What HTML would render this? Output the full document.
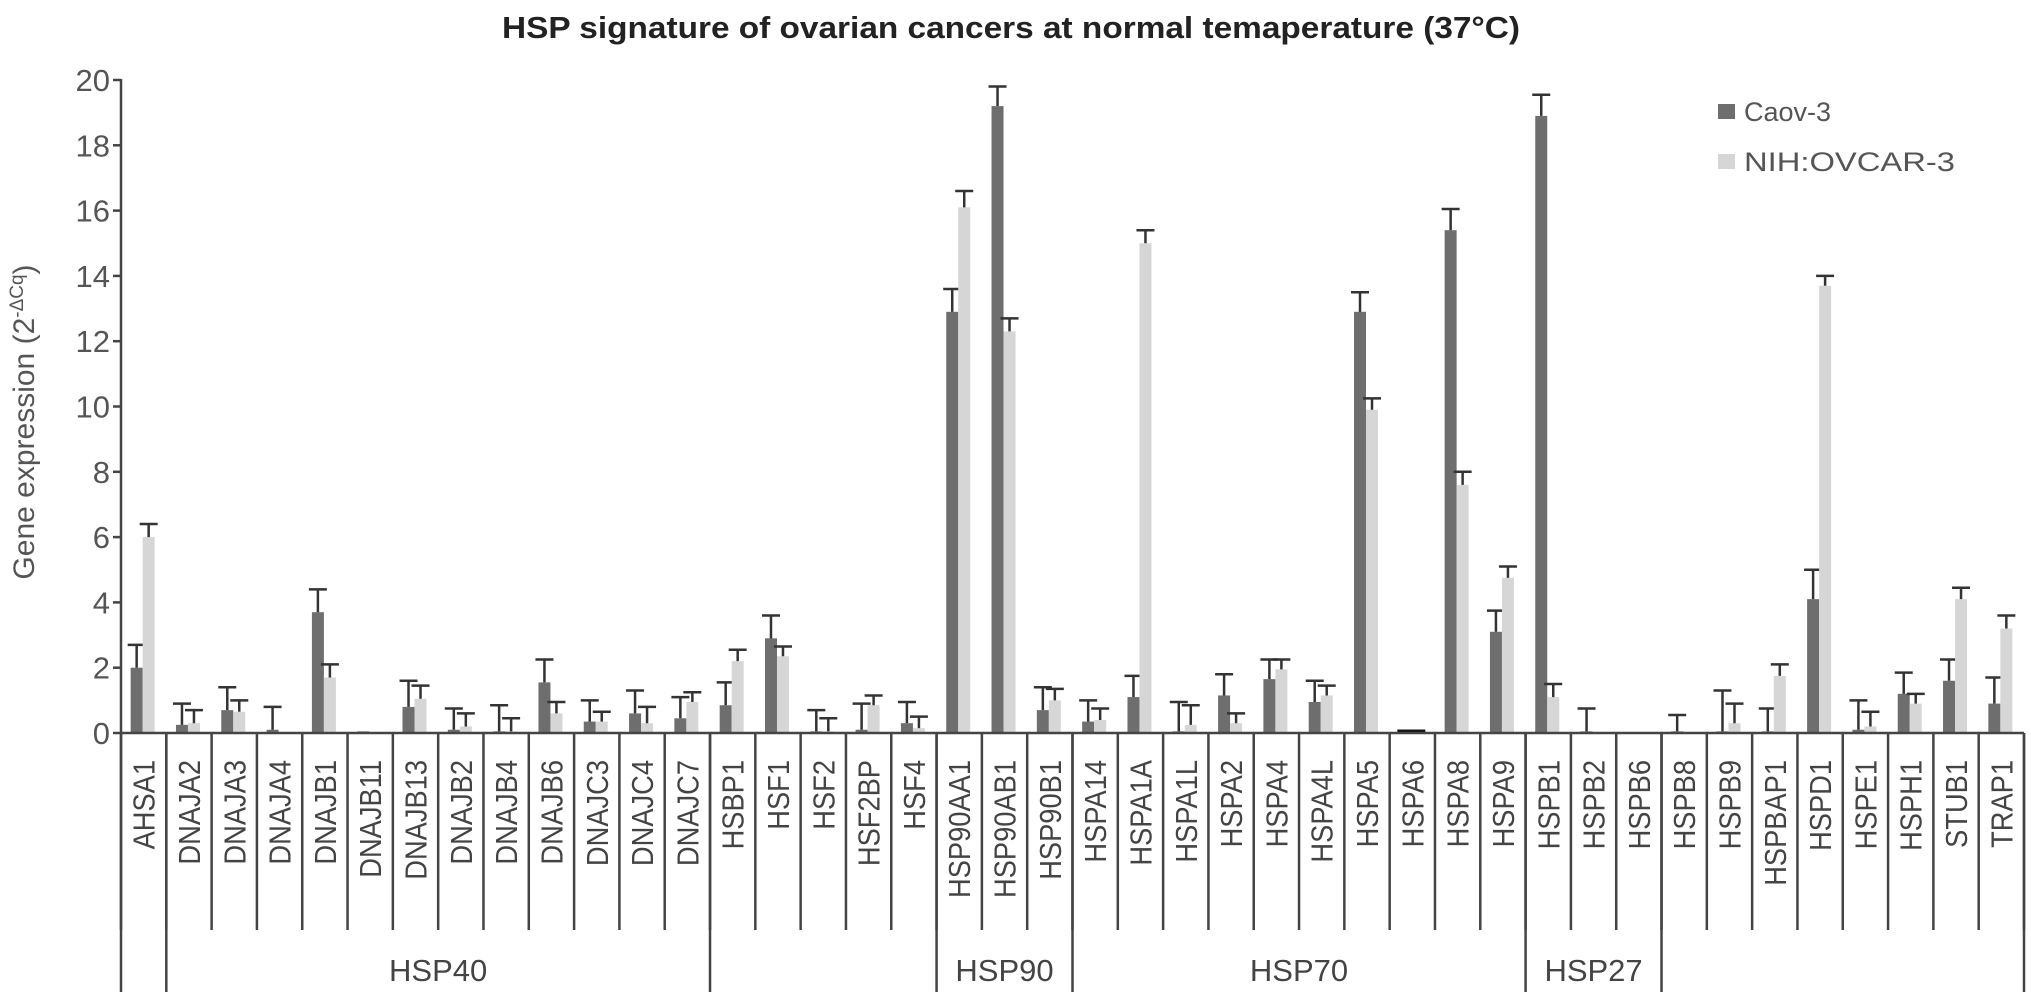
<!DOCTYPE html>
<html><head><meta charset="utf-8"><style>
html,body{margin:0;padding:0;background:#fff}
svg{display:block;font-family:"Liberation Sans",Arial,sans-serif}
</style></head><body>
<svg id="chart" width="2031" height="997" viewBox="0 0 2031 997">
<text x="1011" y="38" text-anchor="middle" font-size="31" font-weight="bold" fill="#222" textLength="1018" lengthAdjust="spacingAndGlyphs">HSP signature of ovarian cancers at normal temaperature (37°C)</text>
<text transform="translate(34,422) rotate(-90)" text-anchor="middle" font-size="30" fill="#555">Gene expression (2<tspan dy="-11" font-size="19">-ΔCq</tspan><tspan dy="11">)</tspan></text>
<g>
<rect x="1718" y="104" width="17" height="15" fill="#6e6e6e"/>
<text x="1744" y="121" font-size="27" fill="#555">Caov-3</text>
<rect x="1718" y="154" width="17" height="15" fill="#d6d6d6"/>
<text x="1744" y="171" font-size="27" fill="#555" textLength="211" lengthAdjust="spacingAndGlyphs">NIH:OVCAR-3</text>
</g>
<g id="plot"></g>
</svg>
<script>
const categories=["AHSA1","DNAJA2","DNAJA3","DNAJA4","DNAJB1","DNAJB11","DNAJB13","DNAJB2","DNAJB4","DNAJB6","DNAJC3","DNAJC4","DNAJC7","HSBP1","HSF1","HSF2","HSF2BP","HSF4","HSP90AA1","HSP90AB1","HSP90B1","HSPA14","HSPA1A","HSPA1L","HSPA2","HSPA4","HSPA4L","HSPA5","HSPA6","HSPA8","HSPA9","HSPB1","HSPB2","HSPB6","HSPB8","HSPB9","HSPBAP1","HSPD1","HSPE1","HSPH1","STUB1","TRAP1"];
const caov3=[2.0,0.25,0.7,0.1,3.7,0.05,0.8,0.1,0.05,1.55,0.35,0.6,0.45,0.85,2.9,0.05,0.1,0.3,12.9,19.2,0.7,0.35,1.1,0.05,1.15,1.65,0.95,12.9,0.05,15.4,3.1,18.9,0.05,0,0.05,0.05,0.05,4.1,0.1,1.2,1.6,0.9];
const caov3Err=[0.7,0.65,0.7,0.7,0.7,0,0.8,0.65,0.8,0.7,0.65,0.7,0.65,0.7,0.7,0.65,0.8,0.65,0.7,0.6,0.7,0.65,0.65,0.9,0.65,0.6,0.65,0.6,0,0.65,0.65,0.65,0.7,0,0.5,1.25,0.7,0.9,0.9,0.65,0.65,0.8];
const ovcar3=[6.0,0.3,0.65,0,1.7,0,1.05,0.2,0.05,0.6,0.35,0.3,0.95,2.2,2.35,0.05,0.85,0.15,16.1,12.3,1.0,0.4,15.0,0.25,0.3,1.95,1.15,9.9,0.05,7.6,4.75,1.1,0,0,0,0.3,1.75,13.7,0.2,0.9,4.1,3.2];
const ovcar3Err=[0.4,0.4,0.35,0,0.4,0,0.4,0.4,0.4,0.35,0.3,0.5,0.3,0.35,0.3,0.4,0.3,0.35,0.5,0.4,0.35,0.35,0.4,0.6,0.3,0.3,0.3,0.35,0,0.4,0.35,0.4,0,0,0,0.6,0.35,0.3,0.45,0.3,0.35,0.4];
const groups=[["",0,1],["HSP40",1,13],["",13,18],["HSP90",18,21],["HSP70",21,31],["HSP27",31,34],["",34,42]];
const yTicks=[0,2,4,6,8,10,12,14,16,18,20];

const NS="http://www.w3.org/2000/svg";
const plot=document.getElementById('plot');
const X0=121,X1=2024,Y0=733,Y20=80,YMAX=20;
const bw=(X1-X0)/categories.length;
const xs=i=>X0+i*bw;
const ys=v=>Y0-(v/YMAX)*(Y0-Y20);
function mk(tag,attrs){const e=document.createElementNS(NS,tag);for(const k in attrs)e.setAttribute(k,attrs[k]);plot.appendChild(e);return e;}
const AX="#444";

let e=mk('line',{x1:X0,y1:Y20-1,x2:X0,y2:Y0,stroke:AX,'stroke-width':2.5});


yTicks.forEach(t=>{
  let l=mk('line',{x1:X0-8,y1:ys(t),x2:X0,y2:ys(t),stroke:AX,'stroke-width':2.5});
  
  
  let tx=mk('text',{x:X0-11,y:ys(t)+11,'text-anchor':'end','font-size':31,fill:'#555'});
  tx.textContent=t;
  
  
});
categories.forEach((c,i)=>{
  const cx=xs(i)+bw/2;
  const series=[[caov3[i],caov3Err[i],cx-13,'#6e6e6e','bar-caov3'],[ovcar3[i],ovcar3Err[i],cx-1,'#d6d6d6','bar-nihovcar3']];
  series.forEach(([v,er,x,col,nm])=>{
    if(v>0){
      let r=mk('rect',{x:x,y:ys(v),width:12,height:Y0-ys(v),fill:col});
      
      
    }
    if(er>0){
      const ex=x+6;
      let g=mk('path',{d:`M${ex},${ys(v)}V${ys(v+er)}M${ex-9},${ys(v+er)}H${ex+9}`,stroke:'#333','stroke-width':2.5,fill:'none'});
      
      
    }
  });
  if(c==="HSPA6"){let z=mk('line',{x1:cx-15,y1:Y0-2,x2:cx+13,y2:Y0-2,stroke:'#111','stroke-width':3});
    
    }
});
for(let i=0;i<=categories.length;i++){
  let l=mk('line',{x1:xs(i),y1:Y0,x2:xs(i),y2:930,stroke:AX,'stroke-width':2.5});
  
  
}
categories.forEach((c,i)=>{
  const cx=xs(i)+bw/2;
  let t=mk('text',{transform:`translate(${cx+11},760) rotate(-90) scale(0.88,1)`,'text-anchor':'end','font-size':31,fill:'#444'});
  t.textContent=c;
  
  
});
e=mk('line',{x1:X0,y1:Y0,x2:X1,y2:Y0,stroke:AX,'stroke-width':2.5});


const gl=new Set();
groups.forEach(([n,a,b])=>{gl.add(a);gl.add(b);
  if(n){let t=mk('text',{x:(xs(a)+xs(b))/2,y:981,'text-anchor':'middle','font-size':31,fill:'#444'});
    t.textContent=n;
    
    }
});
gl.forEach(i=>{let l=mk('line',{x1:xs(i),y1:Y0,x2:xs(i),y2:992,stroke:AX,'stroke-width':2.5});
  
  });
</script>
</body></html>
